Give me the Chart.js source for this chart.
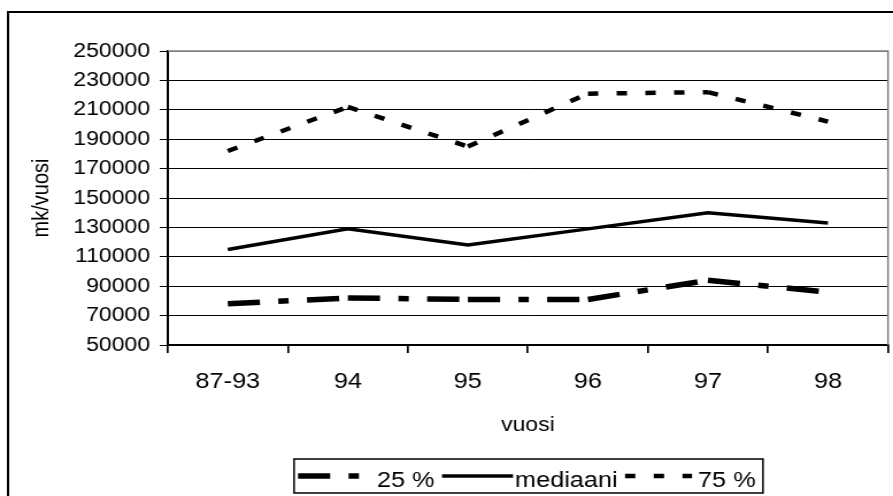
<!DOCTYPE html>
<html>
<head>
<meta charset="utf-8">
<script src="https://cdn.jsdelivr.net/npm/chart.js@4.4.1/dist/chart.umd.min.js"></script>
<style>
  html, body { margin: 0; background: #fff; }
  canvas { display: block; }
</style>
</head>
<body>
<canvas id="chart" width="777" height="496" style="width:893px;height:496px"></canvas>
<script>
var categories = ['87-93', '94', '95', '96', '97', '98'];
var p25Values = [78000, 82000, 81000, 81000, 94000, 86000];
var medianValues = [115000, 129000, 118000, 129000, 140000, 133000];
var p75Values = [182000, 212000, 185000, 221000, 222000, 202000];
var yTickValues = [50000, 70000, 90000, 110000, 130000, 150000, 170000, 190000, 210000, 230000, 250000];

// the picture is a horizontally stretched excel chart: draw narrow, css widens it
var SX = 893 / 777;

Chart.defaults.font.family = '"Liberation Sans", Arial, sans-serif';
Chart.defaults.color = '#000';

// excel starts the dash pattern again on every segment
function restartDash(c) {
    return (c.p0DataIndex % 2) * 0.01;
}

var framePlugin = {
    id: 'frame',
    beforeDraw: function (chart) {
        var ctx = chart.ctx;
        ctx.save();
        ctx.fillStyle = '#fff';
        ctx.fillRect(0, 0, chart.width, chart.height);
        ctx.strokeStyle = '#000';
        ctx.lineWidth = 2;
        ctx.strokeRect(7, 12, chart.width + 20, chart.height + 20);
        ctx.restore();
    },
    beforeDatasetsDraw: function (chart) {
        var a = chart.chartArea, ctx = chart.ctx;
        ctx.save();
        ctx.strokeStyle = '#808080';
        ctx.lineWidth = 1.5;
        ctx.beginPath();
        ctx.moveTo(a.left, a.top);
        ctx.lineTo(a.right, a.top);
        ctx.lineTo(a.right, a.bottom);
        ctx.stroke();
        ctx.restore();
    }
};

// boxed legend under the axis title, like the excel one
var legendPlugin = {
    id: 'boxLegend',
    afterDraw: function (chart) {
        var ctx = chart.ctx;
        var lineY = 476;
        var items = [[298, 362, 377], [442, 513, 515], [625, 692, 698]];
        ctx.save();
        ctx.strokeStyle = '#000';
        ctx.lineWidth = 1.5;
        ctx.strokeRect(294 / SX, 459, (763 - 294) / SX, 34);
        ctx.font = '22px "Liberation Sans", Arial, sans-serif';
        ctx.fillStyle = '#000';
        ctx.textBaseline = 'alphabetic';
        chart.data.datasets.forEach(function (ds, i) {
            var it = items[i];
            ctx.setLineDash(ds.borderDash || []);
            ctx.lineWidth = ds.borderWidth;
            ctx.beginPath();
            ctx.moveTo(it[0] / SX, lineY);
            ctx.lineTo(it[1] / SX, lineY);
            ctx.stroke();
            ctx.setLineDash([]);
            ctx.fillText(ds.label, it[2] / SX, 487);
        });
        ctx.restore();
    }
};

var chartData = {
    labels: categories,
    datasets: [{
        label: '25 %',
        data: p25Values,
        borderColor: '#000',
        borderWidth: 5.5,
        borderDash: [28, 16, 9, 16],
        segment: { borderDashOffset: restartDash },
    }, {
        label: 'mediaani',
        data: medianValues,
        borderColor: '#000',
        borderWidth: 3.5,
    }, {
        label: '75 %',
        data: p75Values,
        borderColor: '#000',
        borderWidth: 4.5,
        borderDash: [9, 16],
        segment: { borderDashOffset: restartDash },
    }]
};

var chartConfig = {
    type: 'line',
    data: chartData,
    options: {
        responsive: false,
        animation: false,
        devicePixelRatio: 1,
        elements: {
            point: { radius: 0, hoverRadius: 0 },
            line: { tension: 0, fill: false }
        },
        layout: {
            padding: { left: 0, top: 51, right: 777 - 888 / SX, bottom: 59 }
        },
        plugins: {
            legend: { display: false },
            tooltip: { enabled: false }
        },
        scales: {
            x: {
                type: 'category',
                offset: true,
                grid: {
                    offset: true,
                    drawOnChartArea: false,
                    drawTicks: true,
                    tickLength: 8,
                    color: '#000',
                    lineWidth: 1.7
                },
                border: { color: '#000', width: 2 },
                ticks: { font: { size: 22 }, padding: 16, maxRotation: 0, autoSkip: false },
                title: { display: true, text: 'vuosi', font: { size: 20 }, padding: { top: 0, bottom: 0 } },
                afterFit: function (s) { s.height = 92; }
            },
            y: {
                type: 'linear',
                min: 50000,
                max: 250000,
                afterBuildTicks: function (s) {
                    s.ticks = yTickValues.map(function (v) { return { value: v }; });
                },
                ticks: {
                    font: { size: 20 },
                    padding: 8.5,
                    callback: function (v) { return String(v); }
                },
                grid: {
                    color: function (c) { return c.tick && c.tick.value === 250000 ? '#808080' : '#000'; },
                    tickColor: '#000',
                    lineWidth: 1,
                    tickLength: 7
                },
                border: { color: '#000', width: 2 },
                title: { display: true, text: 'mk/vuosi', font: { size: 20 }, padding: { top: 24.5, bottom: 0 } },
                afterFit: function (s) { s.width = 146; }
            }
        }
    },
    plugins: [framePlugin, legendPlugin]
};

var lineChart = new Chart(document.getElementById('chart'), chartConfig);
</script>
</body>
</html>
